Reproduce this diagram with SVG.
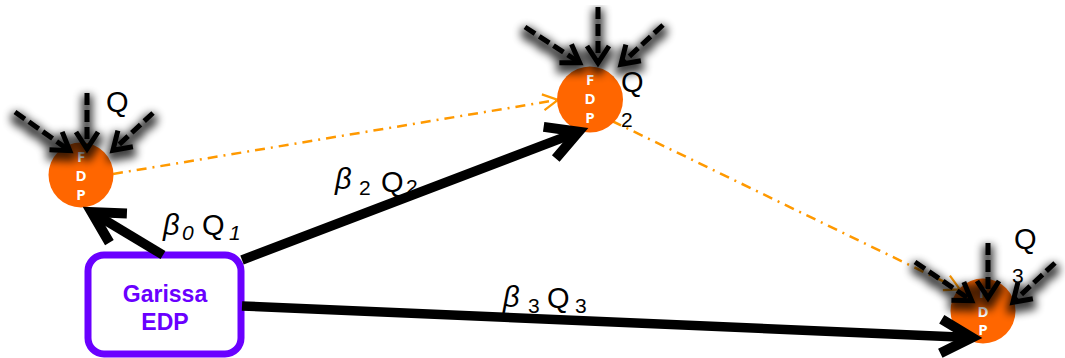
<svg xmlns="http://www.w3.org/2000/svg" width="1065" height="358" viewBox="0 0 1065 358">
<defs>
<style>
.fdp{fill:#FF6600;}
.fdpt{font-family:"Open Sans","Liberation Sans",sans-serif;font-weight:bold;font-size:15px;fill:#ffffff;text-anchor:middle;}
.thick{stroke:#000;stroke-width:9.5;fill:none;marker-end:url(#bigHead);}
.dash{stroke:#000;stroke-width:5;fill:none;stroke-dasharray:12 5;marker-end:url(#smallHead);}
.orange{stroke:#FF9900;stroke-width:2.5;fill:none;stroke-dasharray:10 6 2 6;marker-end:url(#orHead);}
.lbl{font-family:"Liberation Sans","DejaVu Sans",sans-serif;font-size:29px;fill:#000;}
.sub{font-family:"Liberation Sans","DejaVu Sans",sans-serif;font-size:21px;fill:#000;}
.it{font-style:italic;}
.box{fill:#fff;stroke:#6A00FF;stroke-width:7;}
.boxt{font-family:"Liberation Sans",sans-serif;font-weight:bold;font-size:23px;fill:#6A00FF;text-anchor:middle;}
</style>
<marker id="bigHead" markerUnits="userSpaceOnUse" orient="auto" refX="-12" refY="0" markerWidth="10" markerHeight="10" overflow="visible">
<path d="M-41,-17 L-10,0 L-41,17" fill="none" stroke="#000" stroke-width="10" stroke-linejoin="miter"/>
</marker>
<marker id="smallHead" markerUnits="userSpaceOnUse" orient="auto" refX="-6" refY="0" markerWidth="10" markerHeight="10" overflow="visible">
<path d="M-21,-11 L-4,0 L-21,11" fill="none" stroke="#000" stroke-width="5" stroke-linejoin="miter"/>
</marker>
<marker id="orHead" markerUnits="userSpaceOnUse" orient="auto" refX="-1" refY="0" markerWidth="10" markerHeight="10" overflow="visible">
<path d="M-15,-8 L0,0 L-15,8" fill="none" stroke="#FF9900" stroke-width="2.2"/>
</marker>
<filter id="shadow" filterUnits="userSpaceOnUse" x="0" y="0" width="1065" height="358">
<feMorphology in="SourceAlpha" operator="dilate" radius="3" result="d"/>
<feGaussianBlur in="d" stdDeviation="4" result="b"/>
<feOffset in="b" dx="0" dy="5" result="o"/>
<feComponentTransfer in="o" result="s"><feFuncA type="linear" slope="0.75"/></feComponentTransfer>
<feMerge><feMergeNode in="s"/><feMergeNode in="SourceGraphic"/></feMerge>
</filter>
</defs>
<rect width="1065" height="358" fill="#fff"/>

<g id="connectors-dotted">
<path class="orange" d="M113,174 L557,100"/>
<path class="orange" d="M612,121 L959,289"/>
</g>

<g id="node-fdp1">
<circle class="fdp" cx="81" cy="175" r="32.5"/>
<text class="fdpt" x="81" y="162">F</text>
<text class="fdpt" x="81" y="181">D</text>
<text class="fdpt" x="81" y="200">P</text>
</g>
<g id="node-fdp2">
<circle class="fdp" cx="590" cy="99.5" r="33"/>
<text class="fdpt" x="590" y="85">F</text>
<text class="fdpt" x="590" y="104">D</text>
<text class="fdpt" x="590" y="123">P</text>
</g>
<g id="node-fdp3">
<circle class="fdp" cx="983" cy="311" r="32.5"/>
<text class="fdpt" x="983" y="298">F</text>
<text class="fdpt" x="983" y="317">D</text>
<text class="fdpt" x="983" y="335">P</text>
</g>

<g id="node-garissa">
<rect class="box" x="88" y="255" width="153" height="99" rx="16" ry="16"/>
<text class="boxt" x="165" y="302">Garissa</text>
<text class="boxt" x="165" y="330">EDP</text>
</g>

<g id="connectors">
<path class="thick" d="M163,255 L93.3,213.1"/>
<path class="thick" d="M242,260 L576.8,132.4"/>
<path class="thick" d="M242,306 L970,337.5"/>
<g filter="url(#shadow)">
<path class="dash" d="M15,112 L68.1,149.5"/>
<path class="dash" d="M87,93 L87,147"/>
<path class="dash" d="M153,113 L114.4,148.9"/>
</g>
<g filter="url(#shadow)">
<path class="dash" d="M525,27 L578,61.7"/>
<path class="dash" d="M598,7 L598,61"/>
<path class="dash" d="M663,25 L622.4,62.9"/>
</g>
<g filter="url(#shadow)">
<path class="dash" d="M915,262 L970,299.6"/>
<path class="dash" d="M988,243 L988,296"/>
<path class="dash" d="M1055,263 L1014.4,300.9"/>
</g>
</g>

<g id="labels">
<text class="lbl" x="106" y="112">Q</text>
<text class="lbl" x="621" y="92">Q</text>
<text class="sub" x="621" y="127">2</text>
<text class="lbl" x="1014" y="249">Q</text>
<text class="sub" x="1012" y="283">3</text>

<text class="lbl it" x="163" y="235">β</text>
<text class="sub it" x="182" y="240">0</text>
<text class="lbl" x="202" y="235">Q</text>
<text class="sub it" x="229" y="240">1</text>

<text class="lbl it" x="335" y="189">β</text>
<text class="sub" x="359" y="195">2</text>
<text class="lbl" x="381" y="192">Q</text>
<text class="sub" x="406" y="194">2</text>

<text class="lbl it" x="503" y="307">β</text>
<text class="sub" x="528" y="313">3</text>
<text class="lbl" x="547" y="308">Q</text>
<text class="sub" x="575" y="313">3</text>
</g>
</svg>
